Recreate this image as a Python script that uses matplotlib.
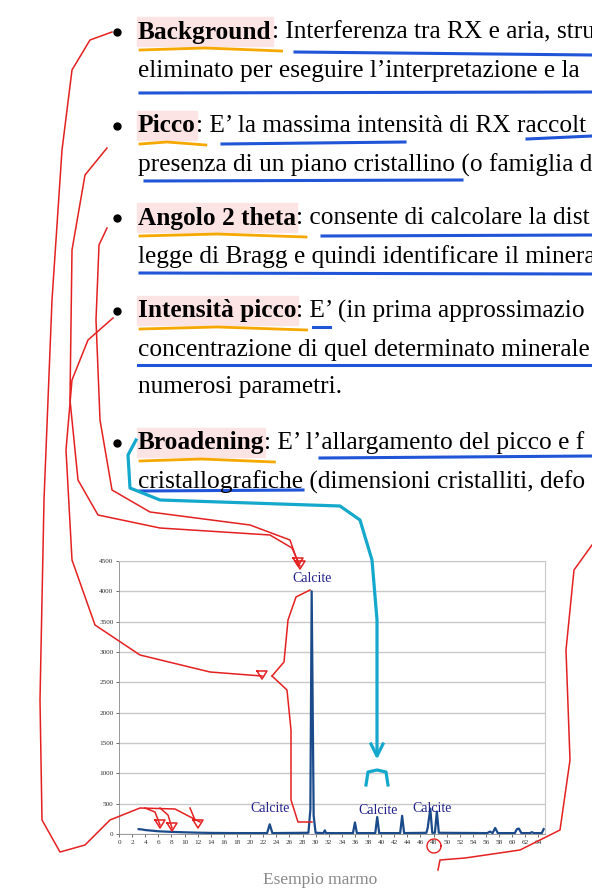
import matplotlib
matplotlib.use("Agg")
import matplotlib.pyplot as plt
import numpy as np

# ---- data ----
two_theta = [3.0, 3.5, 4, 5, 6, 7, 8, 10, 12, 14, 18, 22.6, 23.0, 23.4, 28.9, 29.2, 29.4, 29.7, 30.0,
             31.2, 31.4, 31.6, 35.7, 36.0, 36.3, 39.1, 39.4, 39.7, 42.9, 43.2, 43.5, 46.9, 47.1, 47.5,
             47.8, 48.2, 48.5, 48.8, 56.2, 56.6, 57.0, 57.4, 57.8, 60.4, 60.7, 61.0, 61.4, 62.7, 63.0,
             63.3, 64.5, 64.8]
counts = [80, 75, 65, 55, 45, 40, 35, 28, 22, 18, 15, 15, 160, 15, 20, 400, 4000, 300, 20,
          15, 60, 15, 15, 190, 15, 15, 280, 15, 15, 300, 15, 20, 100, 420,
          20, 20, 370, 20, 15, 40, 15, 100, 15, 15, 80, 90, 15, 15, 30,
          15, 15, 80]
peak_labels = ["Calcite", "Calcite", "Calcite", "Calcite"]
label_pos = [(29.4, 4100), (23.0, 320), (39.5, 280), (47.8, 320)]
x_ticks = list(range(0, 66, 2))
y_ticks = list(range(0, 4501, 500))

bullets = [
    ("Background", ": Interferenza tra RX e aria, stru",
     ["eliminato per eseguire l’interpretazione e la"]),
    ("Picco", ": E’ la massima intensità di RX raccolt",
     ["presenza di un piano cristallino (o famiglia d"]),
    ("Angolo 2 theta", ": consente di calcolare la dist",
     ["legge di Bragg e quindi identificare il minera"]),
    ("Intensità picco", ": E’ (in prima approssimazio",
     ["concentrazione di quel determinato minerale",
      "numerosi parametri."]),
    ("Broadening", ": E’ l’allargamento del picco e f",
     ["cristallografiche (dimensioni cristalliti, defo"]),
]
bullet_y = [32, 126, 218, 311, 443]

W, H = 592, 894
fig = plt.figure(figsize=(W / 100, H / 100), dpi=100)
fig.patch.set_facecolor("white")

# ---- chart ----
L, R, T, B = 119, 545, 561, 834
ax = fig.add_axes([L / W, 1 - B / H, (R - L) / W, (B - T) / H])
ax.plot(two_theta, counts, color="#1a4a8a", lw=1.6)
ax.set_xlim(0, 65)
ax.set_ylim(0, 4500)
ax.set_xticks(x_ticks)
ax.set_yticks(y_ticks)
ax.tick_params(labelsize=5.2, length=2, width=0.5, colors="#333333", pad=2)
for lab in ax.get_xticklabels() + ax.get_yticklabels():
    lab.set_family("Liberation Serif")
ax.grid(axis="y", color="#c8c8c8", lw=1)
for s in ["top", "right"]:
    ax.spines[s].set_color("#c8c8c8")
for s in ["left", "bottom"]:
    ax.spines[s].set_color("#888888")
ax.spines["left"].set_linewidth(0.6)
ax.spines["bottom"].set_linewidth(0.6)
for t, (px, py) in zip(peak_labels, label_pos):
    ax.text(px, py, t, ha="center", va="bottom", color="#22228a", fontsize=10,
            family="Liberation Serif")
fig.text(320 / W, 1 - 880 / H, "Esempio marmo", ha="center", va="center",
         color="#888888", fontsize=12.5, family="Liberation Serif")

# ---- overlay in pixel coordinates ----
ov = fig.add_axes([0, 0, 1, 1], zorder=10)
ov.set_xlim(0, W)
ov.set_ylim(H, 0)
ov.axis("off")
ov.patch.set_alpha(0)

fig.canvas.draw()
r = fig.canvas.get_renderer()
FS = 18.3
x0 = 138
for (bold, rest, more), y in zip(bullets, bullet_y):
    ov.plot([117], [y], "o", color="black", ms=5)
    tb = ov.text(x0, y, bold, fontsize=FS, weight="bold", family="Liberation Serif",
                 va="center", ha="left")
    bb = tb.get_window_extent(r)
    wpx = bb.width
    ov.add_patch(plt.Rectangle((x0 - 1, y - 15), wpx + 2, 29, color="#fde4e4", zorder=0))
    ov.text(x0 + wpx, y, rest, fontsize=FS, family="Liberation Serif", va="center", ha="left")
    for i, m in enumerate(more):
        yy = y + 39 * (i + 1) - (2 if i == 1 else 0)
        ov.text(x0, yy, m, fontsize=FS, family="Liberation Serif", va="center", ha="left")
    ov.plot([x0 + 2, x0 + wpx * 0.5, x0 + wpx + 10], [y + 18, y + 16, y + 19],
            color="#f5a800", lw=2)

blue = "#1f55d6"
for seg in [[(295, 52), (592, 55)], [(140, 93), (592, 92)], [(222, 144), (405, 142)],
            [(527, 139), (592, 136)], [(145, 181), (462, 180)], [(322, 236), (592, 235)],
            [(140, 273), (592, 274)], [(313, 327), (330, 327)], [(138, 365), (592, 365)],
            [(320, 458), (592, 456)], [(140, 491), (303, 490)]]:
    (a, b), (c, d) = seg
    ov.plot([a, c], [b, d], color=blue, lw=2.2)

red = "#e52020"
curves = [
    [(112, 32), (90, 40), (72, 70), (62, 150), (52, 300), (44, 500), (40, 700), (42, 820),
     (60, 852), (85, 845), (110, 820), (140, 808), (175, 809), (200, 822)],
    [(107, 148), (85, 175), (72, 250), (70, 400), (78, 480), (98, 515), (160, 528),
     (270, 535), (292, 548), (300, 566)],
    [(107, 228), (99, 245), (96, 320), (100, 420), (112, 490), (150, 512), (250, 525),
     (290, 540), (298, 563)],
    [(113, 318), (88, 340), (72, 380), (66, 450), (72, 560), (95, 625), (140, 655),
     (210, 672), (262, 676)],
    [(272, 676), (284, 662), (288, 620), (296, 597), (310, 590)],
    [(272, 676), (287, 690), (291, 730), (291, 800), (298, 822), (312, 822)],
    [(145, 808), (155, 812), (160, 825)], [(160, 808), (168, 815), (172, 828)],
    [(190, 808), (195, 820)],
    [(592, 545), (574, 570), (566, 650), (570, 760), (560, 830), (520, 850), (465, 858),
     (440, 860), (438, 870)],
]
for c in curves:
    xs, ys = zip(*c)
    ov.plot(xs, ys, color=red, lw=1.1)
for (x, y) in [(300, 566), (298, 563), (262, 676), (160, 825), (172, 828), (198, 825)]:
    ov.plot([x - 5, x, x + 5, x - 5], [y - 5, y + 3, y - 5, y - 5], color=red, lw=1.1)
t = np.linspace(0, 2 * np.pi, 40)
ov.plot(434 + 7 * np.cos(t), 846 + 7 * np.sin(t), color=red, lw=1)

cyan = "#14a8cc"
xs, ys = zip(*[(136, 440), (128, 455), (130, 488), (160, 500), (250, 503), (340, 506),
               (360, 520), (372, 560), (377, 620), (377, 755)])
ov.plot(xs, ys, color=cyan, lw=2.3)
ov.plot([371, 377, 383], [744, 756, 744], color=cyan, lw=2.3)
ov.plot([366, 368, 377, 386, 388], [785, 772, 770, 772, 785], color=cyan, lw=2.3)

fig.savefig("out.png", dpi=100)
